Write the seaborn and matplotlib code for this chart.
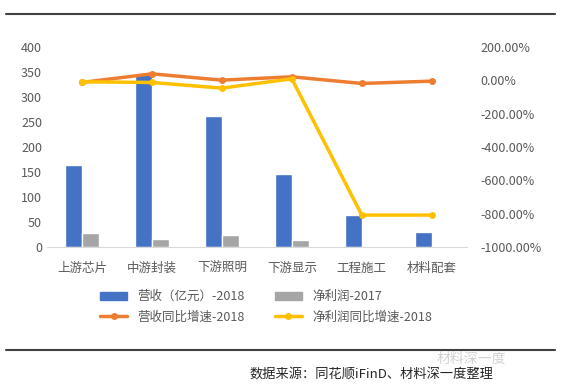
import numpy as np
import pandas as pd
import matplotlib
matplotlib.use('Agg')
import matplotlib.pyplot as plt
import seaborn as sns
from matplotlib.lines import Line2D
from matplotlib.patches import Patch
from matplotlib.ticker import FuncFormatter

# data
categories = ['上游芯片', '中游封装', '下游照明', '下游显示', '工程施工', '材料配套']
revenue_2018 = [164, 348, 262, 146, 64, 30]
profit_2017 = [28, 16, 24, 14, 1.5, 1.5]
revenue_growth_2018 = [-12, 40, 2, 22, -18, -4]
profit_growth_2018 = [-8, -12, -46, 10, -809, -809]

bar_labels = ['营收（亿元）-2018', '净利润-2017']
line_labels = ['营收同比增速-2018', '净利润同比增速-2018']
c_blue, c_gray, c_orange, c_yellow = '#4472C4', '#A5A5A5', '#ED7D31', '#FFC000'
txt = '#595959'

sns.set_style('white')
plt.rcParams['font.family'] = ['Noto Sans CJK SC', 'DejaVu Sans']

bars = pd.DataFrame({
    'cat': categories * 2,
    'val': revenue_2018 + profit_2017,
    'series': [bar_labels[0]] * 6 + [bar_labels[1]] * 6,
})
lines = pd.DataFrame({
    'x': list(np.arange(len(categories))) * 2,
    'val': revenue_growth_2018 + profit_growth_2018,
    'series': [line_labels[0]] * 6 + [line_labels[1]] * 6,
})

fig = plt.figure(figsize=(5.72, 3.9), dpi=100)
ax = fig.add_axes([0.082, 0.367, 0.734, 0.512])
sns.barplot(data=bars, x='cat', y='val', hue='series', order=categories,
            palette=[c_blue, c_gray], width=0.48, saturation=1, ax=ax, legend=False)
ax.set_xlim(-0.5, 5.5)
ax.set_ylim(0, 400)
ax.set_yticks(np.arange(0, 401, 50))
ax.set_xlabel('')
ax.set_ylabel('')
for s in ['left', 'right', 'top']:
    ax.spines[s].set_visible(False)
ax.spines['bottom'].set_color('#D9D9D9')
ax.tick_params(axis='both', length=0, colors=txt, labelsize=9)
ax.tick_params(axis='x', pad=11)

ax2 = ax.twinx()
sns.lineplot(data=lines, x='x', y='val', hue='series',
             palette=[c_orange, c_yellow], marker='o', markersize=5,
             markeredgewidth=0, linewidth=2.5, ax=ax2, legend=False)
ax2.set_ylim(-1000, 200)
ax2.set_yticks(np.arange(-1000, 201, 200))
ax2.yaxis.set_major_formatter(FuncFormatter(lambda v, p: f'{v:.2f}%'))
ax2.set_ylabel('')
ax2.set_xlim(-0.5, 5.5)
for s in ax2.spines.values():
    s.set_visible(False)
ax2.tick_params(axis='y', length=0, colors=txt, labelsize=9, pad=10)

handles = [
    Patch(color=c_blue, label=bar_labels[0]),
    Line2D([0], [0], color=c_orange, lw=2.5, marker='o', ms=4, label=line_labels[0]),
    Patch(color=c_gray, label=bar_labels[1]),
    Line2D([0], [0], color=c_yellow, lw=2.5, marker='o', ms=4, label=line_labels[1]),
]
leg = fig.legend(handles=handles, ncol=2, loc='center', bbox_to_anchor=(0.465, 0.213),
                 frameon=False, fontsize=9, handlelength=2.2, handleheight=0.6,
                 columnspacing=2.4, labelspacing=0.6)
for t in leg.get_texts():
    t.set_color(txt)

# frame lines and source note
fig.add_artist(Line2D([0.01, 0.97], [1 - 14 / 390] * 2, color='#404040', lw=1.5))
fig.add_artist(Line2D([0.01, 0.97], [1 - 350 / 390] * 2, color='#404040', lw=1.5))
fig.text(0.862, 1 - 374 / 390, '数据来源：同花顺iFinD、材料深一度整理', ha='right', va='center',
         fontsize=9.5, color='#262626')
fig.text(0.885, 1 - 359 / 390, '材料深一度', ha='right', va='center', fontsize=10,
         color='#BFBFBF', alpha=0.7)

fig.savefig('out.png', dpi=100)
